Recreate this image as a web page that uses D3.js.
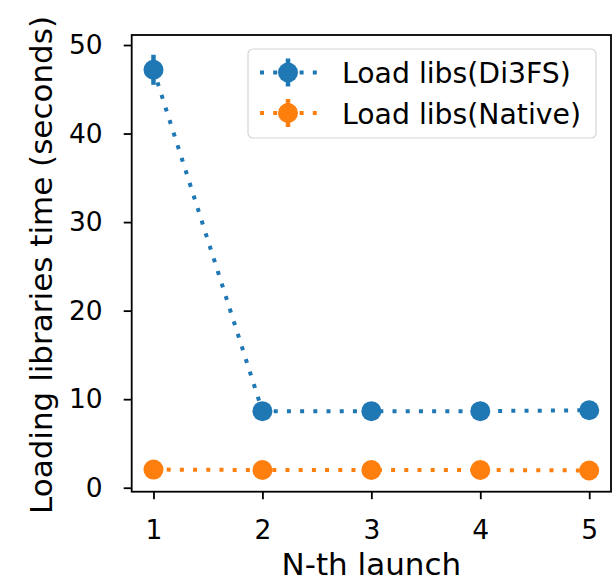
<!DOCTYPE html>
<html>
<head>
<meta charset="utf-8">
<script src="https://cdn.jsdelivr.net/npm/d3@7"></script>
<style>
body { margin: 0; background: #fff; }
text { font-family: "DejaVu Sans", sans-serif; }
</style>
</head>
<body>
<div id="main_div"></div>
<script>
var launches = [1, 2, 3, 4, 5];
var di3fs = [47.2, 8.65, 8.65, 8.65, 8.75];
var di3fs_err = [1.7, 0.1, 0.1, 0.1, 0.1];
var native = [2.05, 2.0, 2.0, 2.0, 1.95];
var native_err = [0.1, 0.1, 0.1, 0.1, 0.1];
var y_ticks = [0, 10, 20, 30, 40, 50];
var series_names = ["Load libs(Di3FS)", "Load libs(Native)"];
var colors = ["#1f77b4", "#ff7f0e"];

var W = 616, H = 583;
var m_left = 131.7, m_right = 611, m_top = 35, m_bottom = 491.7;

var x_scale = d3.scaleLinear().domain([0.8, 5.2]).range([m_left, m_right]);
var y_scale = d3.scaleLinear().domain([-0.45, 51.13]).range([m_bottom, m_top]);

var svg = d3.select("#main_div").append("svg").attr("width", W).attr("height", H);

// axes
var g_x = svg.append("g").attr("transform", "translate(0," + m_bottom + ")")
    .call(d3.axisBottom(x_scale).tickValues(launches).tickFormat(d3.format("d")).tickSize(7.5).tickPadding(20.5));
var g_y = svg.append("g").attr("transform", "translate(" + m_left + ",0)")
    .call(d3.axisLeft(y_scale).tickValues(y_ticks).tickSize(8).tickPadding(21));
[g_x, g_y].forEach(function(g) {
    g.attr("font-size", 26.5).attr("font-family", "DejaVu Sans");
    g.select(".domain").remove();
    g.selectAll("line").attr("stroke", "#000").attr("stroke-width", 1.8);
    g.selectAll("text").attr("fill", "#000");
});

svg.append("rect").attr("x", m_left).attr("y", m_top).attr("width", m_right - m_left).attr("height", m_bottom - m_top)
    .attr("fill", "none").attr("stroke", "#000").attr("stroke-width", 1.8);

svg.append("text").attr("x", (m_left + m_right) / 2).attr("y", 575).attr("text-anchor", "middle")
    .attr("font-size", 31).text("N-th launch");
svg.append("text").attr("transform", "translate(52,265) rotate(-90)")
    .attr("text-anchor", "middle").attr("font-size", 31).text("Loading libraries time (seconds)");

var series = [
    { vals: di3fs, err: di3fs_err, color: colors[0] },
    { vals: native, err: native_err, color: colors[1] }
];

var line = d3.line().x(function(d, i) { return x_scale(launches[i]); }).y(function(d) { return y_scale(d); });

series.forEach(function(s) {
    var g = svg.append("g");
    g.append("path").datum(s.vals).attr("d", line).attr("fill", "none")
        .attr("stroke", s.color).attr("stroke-width", 4).attr("stroke-dasharray", "4,9.2");
    g.selectAll("line.err").data(s.vals).enter().append("line")
        .attr("x1", function(d, i) { return x_scale(launches[i]); })
        .attr("x2", function(d, i) { return x_scale(launches[i]); })
        .attr("y1", function(d, i) { return y_scale(d - s.err[i]); })
        .attr("y2", function(d, i) { return y_scale(d + s.err[i]); })
        .attr("stroke", s.color).attr("stroke-width", 4.5);
    g.selectAll("circle").data(s.vals).enter().append("circle")
        .attr("cx", function(d, i) { return x_scale(launches[i]); })
        .attr("cy", function(d) { return y_scale(d); })
        .attr("r", 10).attr("fill", s.color);
});

// legend
var leg = svg.append("g");
leg.append("rect").attr("x", 248).attr("y", 49).attr("width", 348).attr("height", 89)
    .attr("rx", 5).attr("fill", "#fff").attr("fill-opacity", 0.8).attr("stroke", "#d6d6d6").attr("stroke-width", 1.2);
series_names.forEach(function(name, i) {
    var y = 72.5 + i * 40.5;
    leg.append("line").attr("x1", 260).attr("x2", 318).attr("y1", y).attr("y2", y)
        .attr("stroke", colors[i]).attr("stroke-width", 4).attr("stroke-dasharray", "4,9.2");
    leg.append("line").attr("x1", 288).attr("x2", 288).attr("y1", y - 14).attr("y2", y + 14)
        .attr("stroke", colors[i]).attr("stroke-width", 4.5);
    leg.append("circle").attr("cx", 288).attr("cy", y).attr("r", 10).attr("fill", colors[i]);
    leg.append("text").attr("x", 342).attr("y", y + 10.5).attr("font-size", 28.3).text(name);
});
</script>
</body>
</html>
